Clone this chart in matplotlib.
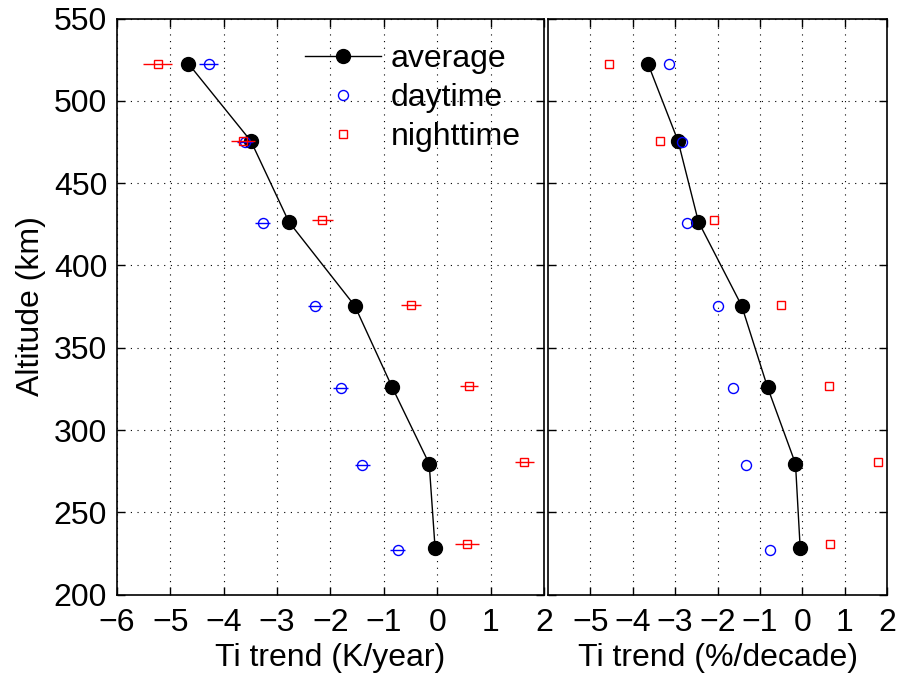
import matplotlib
matplotlib.use("Agg")
import matplotlib.pyplot as plt

# altitude levels (km) for each profile
altAverage = [522.5, 475.5, 426.5, 375.5, 326.0, 279.5, 228.5]
altDay = [522.3, 475.0, 426.0, 375.5, 325.3, 279.0, 227.0]
altNight = [522.3, 475.6, 427.5, 375.8, 327.0, 280.5, 230.5]

# Ti trend in K/year
trendAverageK = [-4.66, -3.49, -2.78, -1.545, -0.844, -0.15, -0.04]
trendDayK = [-4.28, -3.61, -3.27, -2.295, -1.81, -1.40, -0.74]
trendNightK = [-5.24, -3.64, -2.15, -0.49, 0.59, 1.63, 0.56]
errDayK = [0.18, 0.15, 0.14, 0.13, 0.14, 0.14, 0.14]
errNightK = [0.275, 0.23, 0.20, 0.18, 0.17, 0.18, 0.22]

# Ti trend in %/decade
trendAveragePct = [-3.64, -2.93, -2.45, -1.43, -0.82, -0.16, -0.05]
trendDayPct = [-3.14, -2.84, -2.72, -1.98, -1.64, -1.32, -0.76]
trendNightPct = [-4.55, -3.35, -2.09, -0.50, 0.62, 1.79, 0.66]

plt.rcParams["font.family"] = ["Liberation Sans", "DejaVu Sans"]
plt.rcParams["font.size"] = 23
plt.rcParams["mathtext.default"] = "regular"

fig = plt.figure(figsize=(8.97, 6.78), dpi=100)
axLeft = fig.add_axes([0.1304, 0.1230, 0.4760, 0.8497])
axRight = fig.add_axes([0.6109, 0.1230, 0.3780, 0.8497])

gridStyle = dict(color="black", linestyle=(0, (1, 5)), linewidth=0.8)

# left panel: K/year with horizontal error bars
axLeft.plot(trendAverageK, altAverage, color="black", linewidth=1.0, marker="o",
            markersize=10, markerfacecolor="black", label="average", zorder=3)
axLeft.errorbar(trendDayK, altDay, xerr=errDayK, fmt="none", ecolor="blue",
                elinewidth=1.0, capsize=0, zorder=4)
axLeft.plot(trendDayK, altDay, linestyle="none", marker="o", markersize=7.2,
            markerfacecolor="none", markeredgecolor="blue", markeredgewidth=1.0,
            label="daytime", zorder=4)
axLeft.errorbar(trendNightK, altNight, xerr=errNightK, fmt="none", ecolor="red",
                elinewidth=1.0, capsize=0, zorder=5)
axLeft.plot(trendNightK, altNight, linestyle="none", marker="s", markersize=6.2,
            markerfacecolor="none", markeredgecolor="red", markeredgewidth=1.0,
            label="nighttime", zorder=5)

# right panel: %/decade
axRight.plot(trendAveragePct, altAverage, color="black", linewidth=1.0, marker="o",
             markersize=10, markerfacecolor="black", zorder=3)
axRight.plot(trendDayPct, altDay, linestyle="none", marker="o", markersize=7.2,
             markerfacecolor="none", markeredgecolor="blue", markeredgewidth=1.0, zorder=4)
axRight.plot(trendNightPct, altNight, linestyle="none", marker="s", markersize=6.2,
             markerfacecolor="none", markeredgecolor="red", markeredgewidth=1.0, zorder=5)

for ax in (axLeft, axRight):
    ax.set_xlim(-6, 2)
    ax.set_ylim(200, 550)
    ax.set_yticks(range(200, 551, 50))
    ax.grid(True, **gridStyle)
    ax.tick_params(direction="in", top=True, right=True, length=6, width=1.0, pad=7)
    ax.tick_params(axis="x", pad=10)
    for spine in ax.spines.values():
        spine.set_linewidth(1.2)

axLeft.set_xticks(range(-6, 3))
axRight.set_xticks(range(-5, 3))
axRight.tick_params(labelleft=False)

axLeft.set_xlabel("Ti trend (K/year)", labelpad=3)
axRight.set_xlabel("Ti trend (%/decade)", labelpad=3)
axLeft.set_ylabel("Altitude (km)", labelpad=6)

axLeft.legend(loc="upper left", bbox_to_anchor=(0.38, 1.0), frameon=False,
              handlelength=2.4, handletextpad=0.28, labelspacing=0.28,
              borderaxespad=0.4)

fig.savefig("out.png", dpi=100)
